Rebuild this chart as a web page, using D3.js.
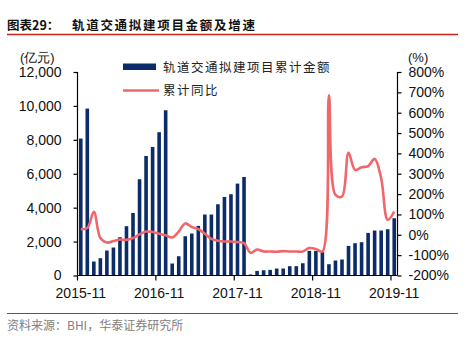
<!DOCTYPE html>
<html><head><meta charset="utf-8">
<script src="https://cdn.jsdelivr.net/npm/d3@7"></script>
<style>
html,body{margin:0;padding:0;background:#fff;}
svg{display:block;}
</style></head>
<body>
<svg id="chart" width="470" height="341"></svg>
<script>
const months = ["2015-11","2015-12",
"2016-01","2016-02","2016-03","2016-04","2016-05","2016-06","2016-07","2016-08","2016-09","2016-10","2016-11","2016-12",
"2017-01","2017-02","2017-03","2017-04","2017-05","2017-06","2017-07","2017-08","2017-09","2017-10","2017-11","2017-12",
"2018-01","2018-02","2018-03","2018-04","2018-05","2018-06","2018-07","2018-08","2018-09","2018-10","2018-11","2018-12",
"2019-01","2019-02","2019-03","2019-04","2019-05","2019-06","2019-07","2019-08","2019-09","2019-10","2019-11"];
const amount = [8075,9843,
825,1020,1473,1650,2257,2906,3690,5676,7049,7580,8450,9743,
707,1137,2316,2475,2925,3595,3595,4202,4633,4792,5420,5811,
60,270,310,330,410,410,550,550,725,1450,1450,1373,
666,884,943,1745,1904,1962,2511,2652,2652,2729,3377];
const yoy = [28,33,
113,-16,-38,-31,-23,-25,-16,2,16,14,5,-2,
-13,16,56,38,28,5,-20,-29,-33,-33,-36,-41,
-88,-72,-82,-82,-83,-80,-82,-82,-82,-65,-70,-82,
686,196,188,403,319,332,338,373,278,74,114];
const xTickLabels = ["2015-11","2016-11","2017-11","2018-11","2019-11"];
const leftTicks = [0,2000,4000,6000,8000,10000,12000];
const rightTicks = [-200,-100,0,100,200,300,400,500,600,700,800];
const barName = "轨道交通拟建项目累计金额";
const lineName = "累计同比";
const title1 = "图表29：";
const title2 = "轨道交通拟建项目金额及增速";
const source = "资料来源：BHI，华泰证券研究所";

const svg = d3.select("#chart");
const L = 77.5, R = 397.5, T = 72, B = 275.5;
const barColor = "#0c2c69", lineColor = "#f0676b";
const axisFont = "'Liberation Sans', Arial, sans-serif";
const cjkFont = "'Noto Sans CJK SC', sans-serif";

const x = d3.scaleBand().domain(months).range([L, R]).paddingInner(0.45).paddingOuter(0.22);
const step = (R - L) / months.length;
const cx = m => L + (months.indexOf(m) + 0.5) * step;
const yL = d3.scaleLinear().domain([0, 12000]).range([B, T]);
const yR = d3.scaleLinear().domain([-200, 800]).range([B, T]);

// title
svg.append("text").attr("x", 7).attr("y", 30).attr("font-family", cjkFont).attr("font-weight", "bold")
  .attr("font-size", 12.5).attr("fill", "#111").text(title1);
svg.append("text").attr("x", 72).attr("y", 30).attr("font-family", cjkFont).attr("font-weight", "bold")
  .attr("font-size", 12.5).attr("letter-spacing", 1.7).attr("fill", "#111").text(title2);
svg.append("line").attr("x1", 7).attr("x2", 458).attr("y1", 34.5).attr("y2", 34.5)
  .attr("stroke", "#c8231c").attr("stroke-width", 1.6);

// bars
const bw = 3.6;
svg.append("g").selectAll("rect").data(months).join("rect")
  .attr("x", d => cx(d) - bw / 2).attr("width", bw)
  .attr("y", (d, i) => yL(amount[i])).attr("height", (d, i) => B - yL(amount[i]))
  .attr("fill", barColor);

// line
const line = d3.line().x((d, i) => cx(months[i])).y(d => yR(d)).curve(d3.curveCatmullRom.alpha(0.5));
svg.append("path").datum(yoy).attr("d", line).attr("fill", "none")
  .attr("stroke", lineColor).attr("stroke-width", 2.6).attr("stroke-linejoin", "round");

// left axis
const gl = svg.append("g").attr("transform", `translate(${L},0)`)
  .call(d3.axisLeft(yL).tickValues(leftTicks).tickSize(4).tickPadding(12).tickFormat(d3.format(",")));
gl.selectAll("text").attr("font-family", axisFont).attr("font-size", 14).attr("fill", "#111");
gl.selectAll("line,path").attr("stroke", "#000").attr("stroke-width", 1.2);
gl.select(".domain").attr("d", `M0,${T}H0V${B}`);

// right axis
const gr = svg.append("g").attr("transform", `translate(${R},0)`)
  .call(d3.axisRight(yR).tickValues(rightTicks).tickSize(4).tickPadding(7).tickFormat(d => d + "%"));
gr.selectAll("text").attr("font-family", axisFont).attr("font-size", 14).attr("fill", "#111");
gr.selectAll("line,path").attr("stroke", "#000").attr("stroke-width", 1.2);
gr.select(".domain").attr("d", `M0,${T}H0V${B}`);

// bottom axis
const gb = svg.append("g");
gb.append("line").attr("x1", L).attr("x2", R).attr("y1", B).attr("y2", B).attr("stroke", "#000").attr("stroke-width", 1.2);
xTickLabels.forEach(lbl => {
  const i = months.indexOf(lbl);
  const tx = L + i * step;
  gb.append("line").attr("x1", tx).attr("x2", tx).attr("y1", B).attr("y2", B + 5).attr("stroke", "#000").attr("stroke-width", 1.2);
  gb.append("text").attr("x", cx(lbl)).attr("y", 298).attr("text-anchor", "middle")
    .attr("font-family", axisFont).attr("font-size", 14).attr("fill", "#111").text(lbl);
});

// axis units
svg.append("text").attr("x", 20).attr("y", 62).attr("font-family", axisFont).attr("font-size", 13).attr("fill", "#111").text("(亿元)");
svg.append("text").attr("x", 408).attr("y", 62).attr("font-family", axisFont).attr("font-size", 13).attr("fill", "#111").text("(%)");

// legend
svg.append("rect").attr("x", 123).attr("y", 63.5).attr("width", 33).attr("height", 6.5).attr("fill", barColor);
svg.append("text").attr("x", 163).attr("y", 71.5).attr("font-family", cjkFont).attr("font-size", 12.5)
  .attr("letter-spacing", 1.5).attr("fill", "#222").text(barName);
svg.append("line").attr("x1", 123).attr("x2", 159).attr("y1", 90.5).attr("y2", 90.5).attr("stroke", lineColor).attr("stroke-width", 2.6);
svg.append("text").attr("x", 163).attr("y", 95).attr("font-family", cjkFont).attr("font-size", 12.5)
  .attr("letter-spacing", 1.5).attr("fill", "#222").text(lineName);

// footer
svg.append("line").attr("x1", 7).attr("x2", 458).attr("y1", 313.5).attr("y2", 313.5).attr("stroke", "#b83228").attr("stroke-width", 1);
svg.append("text").attr("x", 7).attr("y", 330).attr("font-family", cjkFont).attr("font-size", 12).attr("fill", "#808080").text(source);
</script>
</body></html>
